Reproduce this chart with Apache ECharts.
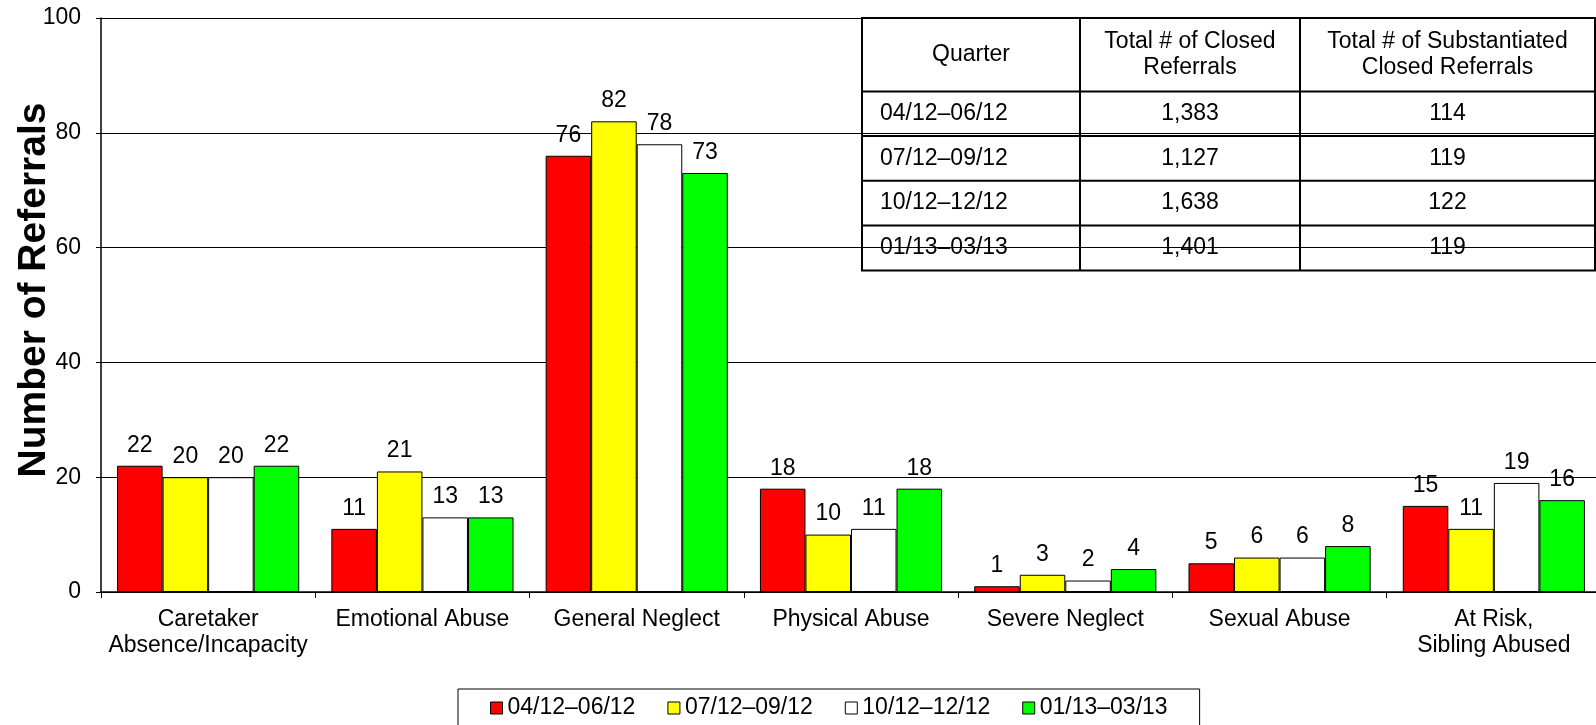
<!DOCTYPE html>
<html>
<head>
<meta charset="utf-8">
<title>Referrals by Type</title>
<script src="https://cdn.jsdelivr.net/npm/echarts@6/dist/echarts.min.js"></script>
<style>
  html, body { margin: 0; padding: 0; background: #fff; }
  #chart { width: 1596px; height: 725px; }
</style>
</head>
<body>
<div id="chart"></div>
<script>
// categories on the x axis
var categories = ['Caretaker\nAbsence/Incapacity', 'Emotional Abuse', 'General Neglect',
  'Physical Abuse', 'Severe Neglect', 'Sexual Abuse', 'At Risk,\nSibling Abused'];

// one series per quarter
var quarters = ['04/12–06/12', '07/12–09/12', '10/12–12/12', '01/13–03/13'];
var q1Values = [22, 11, 76, 18, 1, 5, 15];
var q2Values = [20, 21, 82, 10, 3, 6, 11];
var q3Values = [20, 13, 78, 11, 2, 6, 19];
var q4Values = [22, 13, 73, 18, 4, 8, 16];
var quarterColors = ['#ff0000', '#ffff00', '#ffffff', '#00ff00'];

// inset table
var tableHeaders = ['Quarter', 'Total # of Closed\nReferrals', 'Total # of Substantiated\nClosed Referrals'];
var closedReferrals = ['1,383', '1,127', '1,638', '1,401'];
var substantiatedReferrals = ['114', '119', '122', '119'];

var FONT = '"Liberation Sans", Arial, sans-serif';
var FS = 23;

var chart = echarts.init(document.getElementById('chart'));

var seriesData = [q1Values, q2Values, q3Values, q4Values];
var series = [];
for (var i = 0; i < quarters.length; i++) {
  series.push({
    name: quarters[i],
    type: 'bar',
    data: seriesData[i],
    barGap: '0%',
    barCategoryGap: '15%',
    itemStyle: { color: quarterColors[i], borderColor: '#000', borderWidth: 1 },
    label: {
      show: true,
      position: 'top',
      distance: 9,
      color: '#000',
      fontSize: FS,
      fontFamily: FONT
    },
    emphasis: { disabled: true }
  });
}

/* table drawn with graphic elements */
var tblLeft = 862, tblRight = 1595, tblTop = 18;
var colX = [tblLeft, 1080, 1300, tblRight];
var rowY = [tblTop, 91.5, 136, 180.7, 225.5, 270.5];
var tableEls = [];
tableEls.push({
  type: 'rect',
  shape: { x: tblLeft, y: tblTop, width: tblRight - tblLeft, height: rowY[5] - tblTop },
  style: { fill: '#fff', stroke: '#000', lineWidth: 2 }
});
for (var r = 1; r < rowY.length - 1; r++) {
  tableEls.push({
    type: 'line',
    shape: { x1: tblLeft, y1: rowY[r], x2: tblRight, y2: rowY[r] },
    style: { stroke: '#000', lineWidth: 2 }
  });
}
for (var c = 1; c < colX.length - 1; c++) {
  tableEls.push({
    type: 'line',
    shape: { x1: colX[c], y1: tblTop, x2: colX[c], y2: rowY[5] },
    style: { stroke: '#000', lineWidth: 2 }
  });
}
var cellText = function(text, x, y, align) {
  return {
    type: 'text',
    x: x, y: y,
    style: {
      text: text, fill: '#000', fontSize: FS, fontFamily: FONT,
      align: align, verticalAlign: 'middle', lineHeight: 26
    }
  };
};
for (var h = 0; h < tableHeaders.length; h++) {
  tableEls.push(cellText(tableHeaders[h], (colX[h] + colX[h + 1]) / 2, (rowY[0] + rowY[1]) / 2, 'center'));
}
for (var k = 0; k < quarters.length; k++) {
  var cy = (rowY[k + 1] + rowY[k + 2]) / 2;
  tableEls.push(cellText(quarters[k], tblLeft + 18, cy, 'left'));
  tableEls.push(cellText(closedReferrals[k], (colX[1] + colX[2]) / 2, cy, 'center'));
  tableEls.push(cellText(substantiatedReferrals[k], (colX[2] + colX[3]) / 2, cy, 'center'));
}

var option = {
  backgroundColor: '#fff',
  animation: false,
  textStyle: { fontFamily: FONT },
  grid: { left: 101, top: 18, width: 1500, height: 574, outerBoundsMode: 'none', containLabel: false },
  legend: {
    data: quarters,
    left: 458,
    top: 689,
    orient: 'horizontal',
    itemWidth: 12,
    itemHeight: 12,
    itemGap: 32,
    icon: 'rect',
    borderColor: '#000',
    borderWidth: 1,
    padding: [7, 32, 20, 32],
    textStyle: { color: '#000', fontSize: FS, fontFamily: FONT, lineHeight: 24 },
    itemStyle: { borderColor: '#000', borderWidth: 1 }
  },
  xAxis: {
    type: 'category',
    data: categories,
    axisLine: { lineStyle: { color: '#000', width: 1.5 } },
    axisTick: { show: true, length: 6, lineStyle: { color: '#000' } },
    axisLabel: { interval: 0, margin: 15, color: '#000', fontSize: FS, lineHeight: 26, fontFamily: FONT }
  },
  yAxis: {
    type: 'value',
    min: 0,
    max: 100,
    interval: 20,
    name: 'Number of Referrals',
    nameLocation: 'middle',
    nameGap: 47,
    nameMoveOverlap: false,
    nameTextStyle: { color: '#000', fontSize: 39, fontWeight: 'bold', fontFamily: FONT, padding: [0, 0, 0, 30] },
    axisLine: { show: true, lineStyle: { color: '#000', width: 1.5 } },
    axisTick: { show: true, length: 5, lineStyle: { color: '#000' } },
    axisLabel: { margin: 20, color: '#000', fontSize: FS, fontFamily: FONT },
    splitLine: { show: true, lineStyle: { color: '#000', width: 1 } }
  },
  series: series,
  graphic: [{ type: 'group', z: 100, children: tableEls }]
};

chart.setOption(option);
</script>
</body>
</html>
